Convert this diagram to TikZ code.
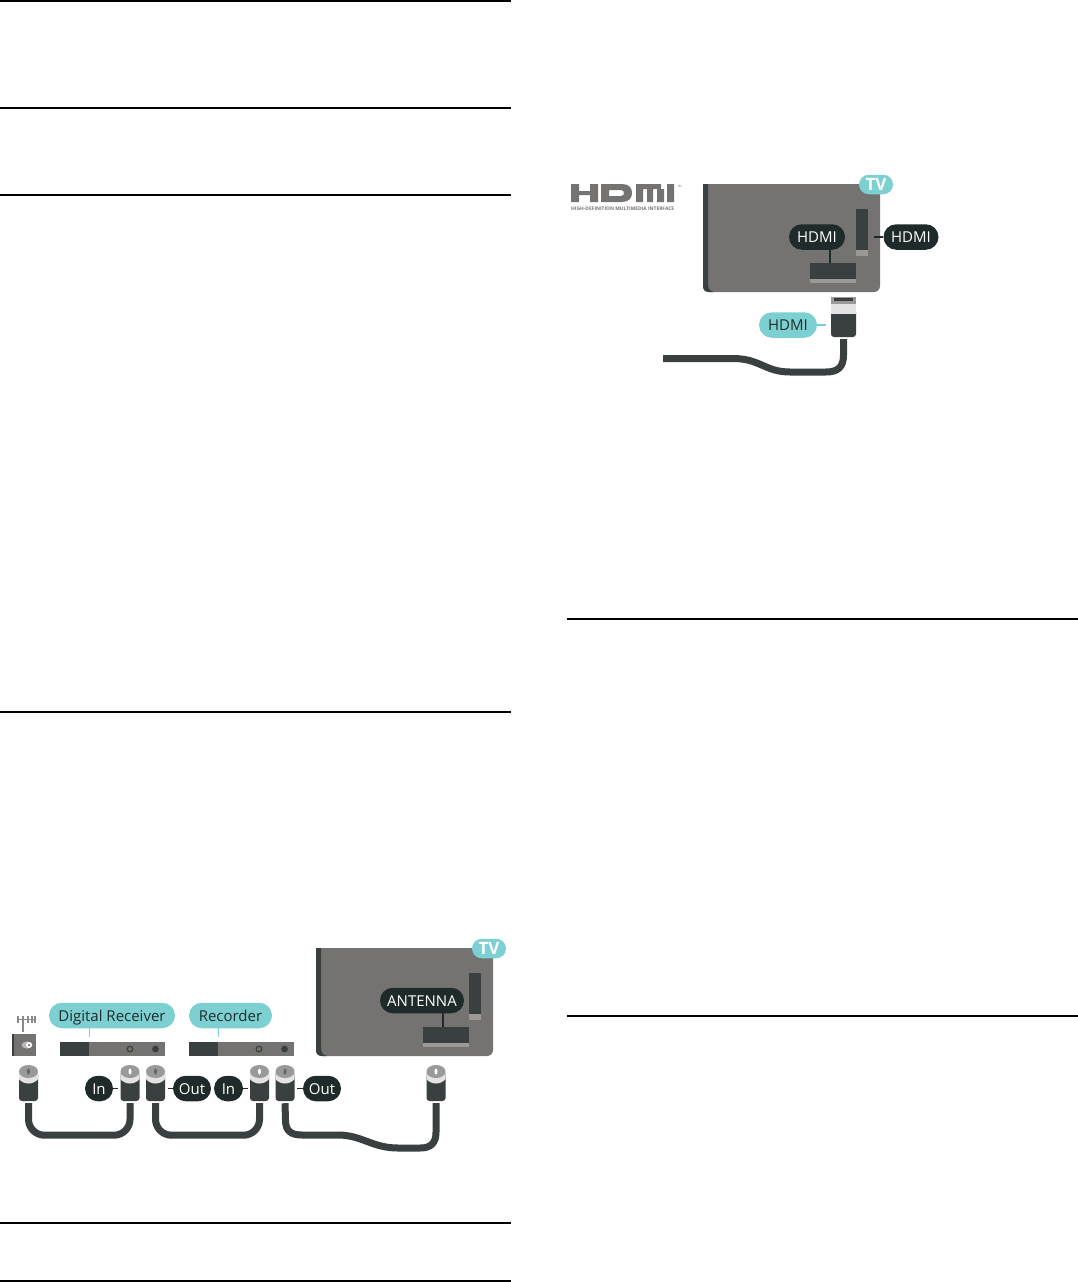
\documentclass[tikz,border=0pt]{standalone}
\usepackage{fontspec}
\setmainfont{Open Sans}
\usepackage{xcolor}
\usetikzlibrary{positioning, calc, shapes.misc}
\definecolor{tvgray}{HTML}{757272}
\definecolor{tvdark}{HTML}{3A3F3F}
\definecolor{pillblack}{HTML}{1F2B2B}
\definecolor{pillteal}{HTML}{7DD0D2}
\definecolor{capgray}{HTML}{9B9898}
\definecolor{caplight}{HTML}{E3E3E3}

\begin{document}
\begin{tikzpicture}[x=1pt, y=-1pt,
    rulebar/.style={line width=1.2pt, black},
    pilldark/.style={rounded rectangle, fill=pillblack, text=white, minimum height=25.5pt,
                     inner sep=0pt, text height=11pt, text depth=0pt, font=\fontsize{15}{18}\selectfont},
    pillcyan/.style={rounded rectangle, fill=pillteal, text=pillblack, minimum height=25.5pt,
                     inner sep=0pt, text height=11pt, text depth=0pt, font=\fontsize{15}{18}\selectfont},
    portbar/.style={fill=tvdark, inner sep=0pt},
    devbar/.style={fill=tvgray, inner sep=0pt, minimum height=14pt},
    plugbody/.style={rounded corners=3pt, fill=tvdark, inner sep=0pt, minimum width=19pt, minimum height=30pt},
    cable/.style={line width=7pt, tvdark, rounded corners=16pt},
    stemdark/.style={line width=1.4pt, pillblack},
    stemcyan/.style={line width=1.4pt, pillteal},
]
\useasboundingbox (0,0) rectangle (1078,1282);

% Rules, left and right column
\foreach \ry in {1, 108, 195, 712, 1223, 1281}
  \draw[rulebar] (0,\ry) -- (511,\ry);
\foreach \ry in {619, 1016}
  \draw[rulebar] (567,\ry) -- (1078,\ry);

% TV sets
\foreach \tx/\ty/\nm in {316/948/a, 703/184/h} {
  \begin{scope}[shift={(\tx,\ty)}]
    \fill[tvgray] (0,0) -- (177,0) [rounded corners=6pt] -- (177,108) -- (0,108) [sharp corners] -- (0,0) -- cycle;
    \fill[tvdark] (0,0) -- (5,0) -- (5,100) .. controls (5,105) and (7,107) .. (11,108) -- (6,108) .. controls (2,108) and (0,106) .. (0,102) -- cycle;
    \node[portbar, minimum width=11.5pt, minimum height=41pt, anchor=north west] (side\nm) at (153,25) {};
    \fill[capgray] (153,66) rectangle (164.5,72);
    \node[portbar, minimum width=46pt, minimum height=15.5pt, anchor=north west] (bottom\nm) at (107,79) {};
    \fill[capgray] (107,94.5) rectangle (153,99);
    \node[pillcyan, minimum width=34pt, minimum height=19.5pt, text=white, font=\fontsize{17}{18}\selectfont\bfseries, text height=12pt] (tvtag\nm) at (173,0.5) {TV};
  \end{scope}
}

% TV labels
\node[pilldark, minimum width=84pt] (antenna) at (422,1000.5) {ANTENNA};
\draw[stemdark] (antenna.south -| 443,0) -- (443,1027);
\node[pilldark, minimum width=56pt] (hdmiin) at (817,237) {HDMI};
\draw[stemdark] (830,250) -- (bottomh.north -| 830,0);
\node[pilldark, minimum width=55pt] (hdmiside) at (911,237) {HDMI};
\draw[stemdark] (hdmiside.west) -- (874,237);

% Aerial and wall socket
\draw[line width=1.4pt, capgray!90!black] (17,1019.5) -- (36,1019.5);
\foreach \ax in {18, 28, 32, 35}
  \draw[line width=1.3pt, capgray!90!black] (\ax,1016) -- (\ax,1023);
\draw[line width=1.4pt, capgray!90!black] (23,1016) -- (23,1032);
\node[devbar, minimum width=24pt, minimum height=22pt, anchor=north west] (socket) at (12,1034) {};
\fill[tvdark] (12,1034) rectangle (14,1056);
\fill[capgray!70] (27,1045) ellipse (5.5pt and 3.5pt);
\fill[white] (29,1045) circle (3pt);
\fill[tvdark] (29,1045) circle (1pt);

% Digital receiver and recorder
\foreach \bx/\nm in {60/recv, 189/reco} {
  \node[devbar, minimum width=105pt, anchor=north west] (\nm) at (\bx,1042) {};
  \node[portbar, minimum width=29pt, minimum height=14pt, anchor=north west] (\nm dark) at (\bx,1042) {};
  \draw[line width=1.2pt, tvdark] ($(\bx,1049)+(70,0)$) circle (2.8pt);
  \fill[tvdark] ($(\bx,1049)+(95.5,0)$) circle (3.4pt);
}
\node[pillcyan, minimum width=126pt] (digital) at (112,1015.5) {Digital Receiver};
\node[pillcyan, minimum width=83pt] (recorder) at (230.5,1015.5) {Recorder};
\draw[stemcyan] (recvdark.north east |- digital.south) -- ([yshift=5pt]recvdark.north east);
\draw[stemcyan] (recodark.north east |- recorder.south) -- ([yshift=5pt]recodark.north east);

% Antenna plugs
\foreach \px/\nm/\dotc in {28.5/pa/tvdark!80, 130/pb/white, 155.5/pc/tvdark!80, 259.5/pd/white, 285/pe/tvdark!80, 436/pf/white} {
  \node[plugbody] (\nm) at (\px,1086) {};
  \fill[caplight] (\px-9.5,1072) -- (\px+9.5,1072) -- (\px+9.5,1079) .. controls (\px+5,1085) and (\px-5,1085) .. (\px-9.5,1079) -- cycle;
  \fill[capgray] (\px,1071.5) ellipse (9.5pt and 6.5pt);
  \fill[\dotc] (\px,1071.5) ellipse (1.5pt and 3pt);
}

% Antenna cables
\draw[cable] ($(pa.south)+(0,2)$) -- ($(pa.south)+(0,34)$) -- ($(pb.south)+(0,34)$) -- ($(pb.south)+(0,2)$);
\draw[cable] ($(pc.south)+(0,2)$) -- ($(pc.south)+(0,34)$) -- ($(pd.south)+(0,34)$) -- ($(pd.south)+(0,2)$);
\draw[line width=7pt, tvdark] ($(pe.south)+(0,2)$) -- (285.5,1120) .. controls (285.5,1131) and (291,1135) .. (302,1135)
  -- (338,1135) .. controls (362,1135) and (372,1148) .. (398,1148) -- (420,1148)
  .. controls (431,1148) and (436,1143) .. (436,1132) -- ($(pf.south)+(0,2)$);

% Plug labels
\node[pilldark, minimum width=28pt] (inone) at (99,1088.5) {In};
\draw[stemdark] (inone.east) -- (118,1088.5);
\node[pilldark, minimum width=38pt] (outone) at (192,1088.5) {Out};
\draw[stemdark] (outone.west) -- (168,1088.5);
\node[pilldark, minimum width=29pt] (intwo) at (228.5,1088.5) {In};
\draw[stemdark] (intwo.east) -- (247.5,1088.5);
\node[pilldark, minimum width=38pt] (outtwo) at (322,1088.5) {Out};
\draw[stemdark] (outtwo.west) -- (297,1088.5);

% HDMI plug and cable
\node[plugbody, minimum width=25pt, minimum height=28pt] (hdmiplug) at (843.5,323) {};
\fill[caplight] (831,304) rectangle (856,314);
\fill[capgray] (831,297) rectangle (856,304);
\fill[tvdark] (834,298) rectangle (853,301);
\draw[line width=7pt, tvdark] ($(hdmiplug.south)+(0,2)$) -- (843.5,355) .. controls (843.5,367) and (838,372) .. (826,372)
  -- (790,372) .. controls (765,372) and (760,358.5) .. (733,358.5) -- (663,358.5);
\node[pillcyan, minimum width=58pt] (hdmicable) at (788,325) {HDMI};
\draw[stemcyan] (hdmicable.east) -- (826,325);

% HDMI logo
\fill[tvgray] (571,184) rectangle (579,202) (590,184) rectangle (598,202) (579,191) rectangle (590,195)
  (636,186) rectangle (643,202) (647,189) rectangle (653,202) (657,189) rectangle (664,202) (636,184) rectangle (661,189)
  (667,184) rectangle (674,202);
\fill[tvgray, even odd rule] (601,184) -- (622,184) .. controls (629,184) and (632,188) .. (632,193) .. controls (632,198) and (629,202) .. (622,202) -- (601,202) -- cycle
  (609,190) -- (621,190) .. controls (625,190) and (625,196) .. (621,196) -- (609,196) -- cycle;
\node[font=\fontsize{3}{3}\selectfont, text=tvgray, inner sep=0pt] (tmark) at (679.5,186) {TM};
\node[font=\fontsize{4.9}{5}\selectfont\bfseries, text=tvgray, inner sep=0pt, anchor=west] (logotext) at (571,208.5) {HIGH-DEFINITION MULTIMEDIA INTERFACE};

\end{tikzpicture}
\end{document}
